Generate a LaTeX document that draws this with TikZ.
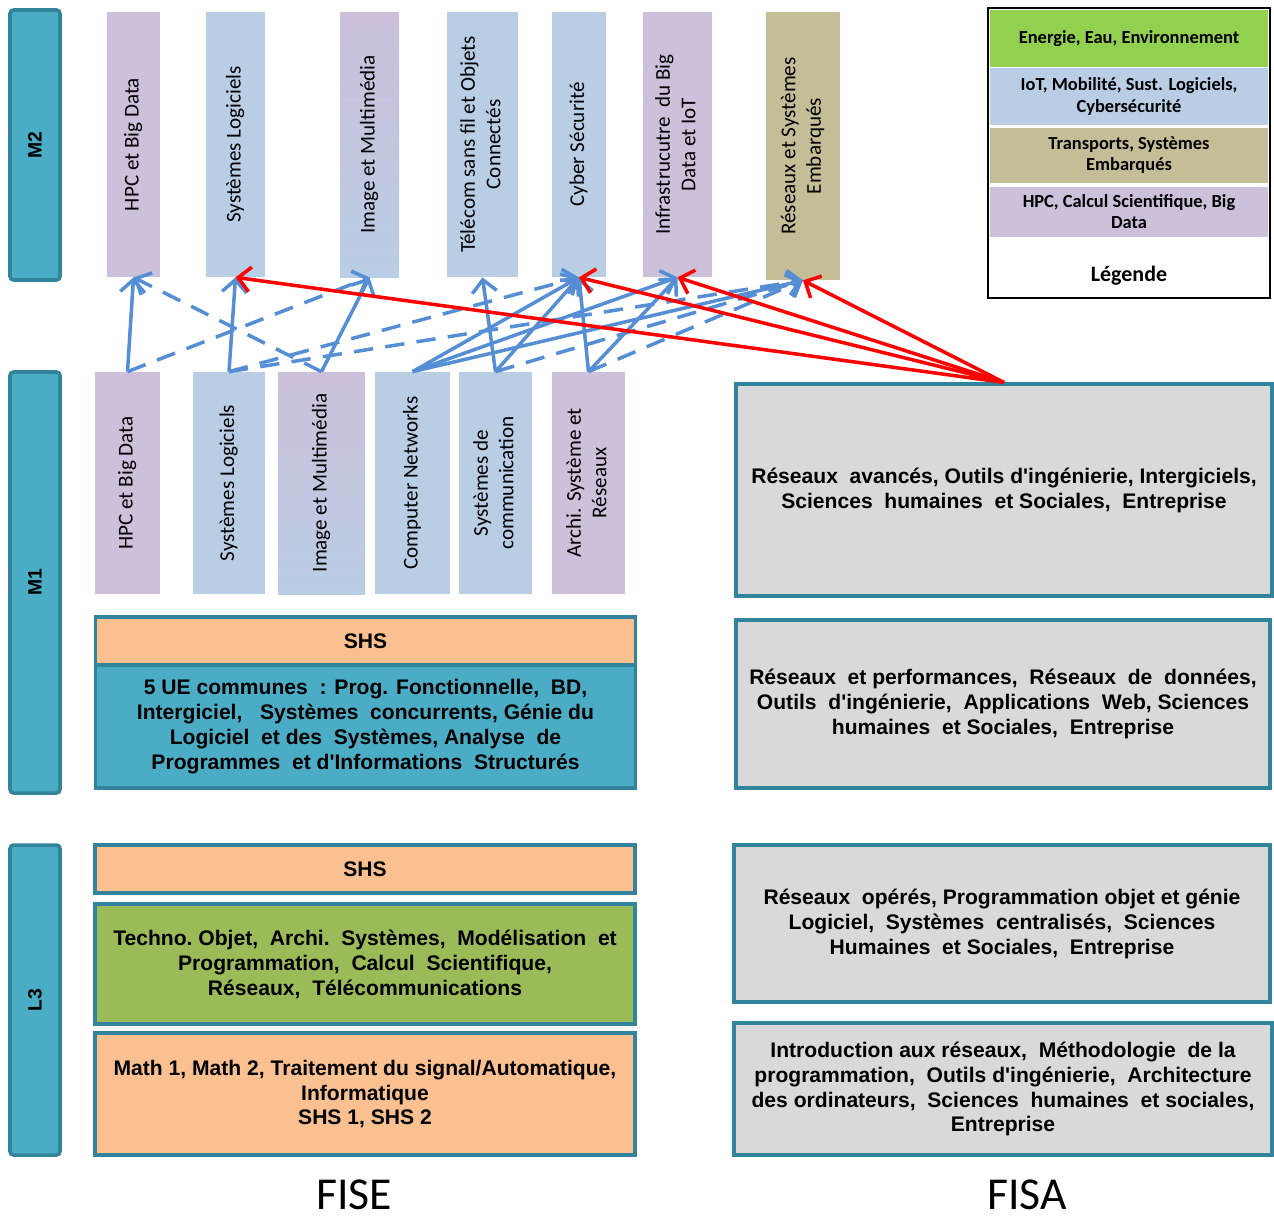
\documentclass[tikz,border=0pt]{standalone}
\usepackage{fontspec}
\setmainfont{Carlito}
\newfontfamily\arialfont{Liberation Sans}
\usepackage{xcolor}
\usepackage{tikz}
\usetikzlibrary{arrows.meta}

\definecolor{tealfill}{HTML}{4BACC6}
\definecolor{tealline}{HTML}{31849B}
\definecolor{hpcpurple}{HTML}{CCC0DA}
\definecolor{iotblue}{HTML}{B9CDE5}
\definecolor{transptan}{HTML}{C4BD97}
\definecolor{energygreen}{HTML}{92D050}
\definecolor{shsorange}{HTML}{FAC090}
\definecolor{scigreen}{HTML}{9BBB59}
\definecolor{fisagray}{HTML}{D9D9D9}
\definecolor{linkblue}{HTML}{558ED5}

\newcommand{\vtext}[1]{\rotatebox{90}{\begin{tabular}{@{}c@{}}#1\end{tabular}}}

\tikzset{
    % year bars
    year/.style={draw=tealline, line width=2pt, fill=tealfill, rounded corners=2pt, minimum width=1cm, inner sep=0pt, font=\arialfont\bfseries\fontsize{11}{13}\selectfont},
    % specialisation tracks
    track/.style={inner sep=0pt, font=\fontsize{12}{14.5}\selectfont},
    hpc/.style={track, fill=hpcpurple},
    iot/.style={track, fill=iotblue},
    transp/.style={track, fill=transptan},
    mixed/.style={track, top color=hpcpurple, bottom color=iotblue},
    % course boxes
    course/.style={draw=tealline, line width=1.8pt, inner sep=0pt, align=center, font=\arialfont\bfseries\fontsize{12}{14.2}\selectfont},
    fisebox/.style={course, minimum width=10.8cm},
    fisabox/.style={course, fill=fisagray},
    % legend
    legendrow/.style={inner sep=0pt, minimum width=5.56cm, align=center, font=\bfseries\fontsize{10.5}{12}\selectfont},
    % connectors
    link/.style={->, line width=2pt, linkblue},
    dashlink/.style={link, dash pattern=on 11pt off 7pt},
    fisalink/.style={->, line width=2pt, red}
}

\begin{document}
\begin{tikzpicture}[>={Straight Barb[length=7pt,width=14pt]}]
\useasboundingbox (0,0) rectangle (25.48,-24.5);

% Years
\node[year, minimum height=5.4cm] (m2) at (0.7,-2.9) {\rotatebox{90}{M2}};
\node[year, minimum height=8.42cm] (m1) at (0.7,-11.65) {\rotatebox{90}{M1}};
\node[year, minimum height=6.2cm] (l3) at (0.7,-20.0) {\rotatebox{90}{L3}};

% M2 tracks
\node[hpc, minimum width=1.06cm, minimum height=5.3cm] (m2hpc) at (2.67,-2.89) {\vtext{HPC et Big Data}};
\node[iot, minimum width=1.18cm, minimum height=5.3cm] (m2log) at (4.71,-2.89) {\vtext{Systèmes Logiciels}};
\node[mixed, minimum width=1.18cm, minimum height=5.3cm] (m2img) at (7.39,-2.89) {\vtext{Image et Multimédia}};
\node[iot, minimum width=1.42cm, minimum height=5.3cm] (m2tel) at (9.65,-2.89) {\vtext{Télécom sans fil et Objets\\Connectés}};
\node[iot, minimum width=1.08cm, minimum height=5.3cm] (m2cyb) at (11.58,-2.89) {\vtext{Cyber Sécurité}};
\node[hpc, minimum width=1.38cm, minimum height=5.3cm] (m2infra) at (13.55,-2.89) {\vtext{Infrastrucutre\ \ du Big\\Data et IoT}};
\node[transp, minimum width=1.48cm, minimum height=5.36cm] (m2rse) at (16.06,-2.92) {\vtext{Réseaux et Systèmes\\Embarqués}};

% M1 tracks
\node[hpc, minimum width=1.3cm, minimum height=4.44cm] (m1hpc) at (2.55,-9.66) {\vtext{HPC et Big Data}};
\node[iot, minimum width=1.44cm, minimum height=4.44cm] (m1log) at (4.58,-9.66) {\vtext{Systèmes Logiciels}};
\node[mixed, minimum width=1.74cm, minimum height=4.44cm] (m1img) at (6.43,-9.66) {\vtext{Image et Multimédia}};
\node[iot, minimum width=1.5cm, minimum height=4.44cm] (m1net) at (8.25,-9.66) {\vtext{Computer Networks}};
\node[iot, minimum width=1.46cm, minimum height=4.44cm] (m1com) at (9.91,-9.66) {\vtext{Systèmes de\\communication}};
\node[hpc, minimum width=1.46cm, minimum height=4.44cm] (m1arch) at (11.77,-9.66) {\vtext{Archi. Système et\\Réseaux}};

% FISE M1
\node[fisebox, fill=shsorange, minimum height=0.96cm] (fiseshs) at (7.31,-12.82) {SHS};
\node[fisebox, fill=tealfill, minimum height=2.46cm] (fiseue) at (7.31,-14.53) {5 UE communes\ \ : Prog. Fonctionnelle,\ \ BD,\\Intergiciel,\ \ \ Systèmes\ \ concurrents, Génie du\\Logiciel\ \ et des\ \ Systèmes, Analyse\ \ de\\Programmes\ \ et d'Informations\ \ Structurés};

% FISA M1
\node[fisabox, minimum width=10.72cm, minimum height=4.24cm] (fisaadv) at (20.08,-9.8) {Réseaux\ \ avancés, Outils d'ingénierie, Intergiciels,\\Sciences\ \ humaines\ \ et Sociales,\ \ Entreprise};
\node[fisabox, minimum width=10.68cm, minimum height=3.36cm] (fisaperf) at (20.06,-14.08) {Réseaux\ \ et performances,\ \ Réseaux\ \ de\ \ données,\\Outils\ \ d'ingénierie,\ \ Applications\ \ Web, Sciences\\humaines\ \ et Sociales,\ \ Entreprise};

% FISE L3
\node[fisebox, fill=shsorange, minimum height=0.96cm] (lshs) at (7.3,-17.38) {SHS};
\node[fisebox, fill=scigreen, minimum height=2.4cm] (lsci) at (7.3,-19.28) {Techno.\ Objet,\ \ Archi.\ \ Systèmes,\ \ Modélisation\ \ et\\Programmation,\ \ Calcul\ \ Scientifique,\\Réseaux,\ \ Télécommunications};
\node[fisebox, fill=shsorange, minimum height=2.44cm] (lmath) at (7.3,-21.88) {Math 1, Math 2, Traitement du signal/Automatique,\\Informatique\\SHS 1, SHS 2};

% FISA L3
\node[fisabox, minimum width=10.72cm, minimum height=3.14cm] (fisaop) at (20.04,-18.47) {Réseaux\ \ opérés, Programmation objet et génie\\Logiciel,\ \ Systèmes\ \ centralisés,\ \ Sciences\\Humaines\ \ et Sociales,\ \ Entreprise};
\node[fisabox, minimum width=10.76cm, minimum height=2.64cm] (fisaintro) at (20.06,-21.78) {Introduction aux réseaux,\ \ Méthodologie\ \ de la\\programmation,\ \ Outils d'ingénierie,\ \ Architecture\\des ordinateurs,\ \ Sciences\ \ humaines\ \ et sociales,\\Entreprise};

% Legend
\node[draw, line width=1.5pt, minimum width=5.64cm, minimum height=5.8cm] (legend) at (22.58,-3.06) {};
\node[legendrow, fill=energygreen, minimum height=1.14cm] (legenergy) at (22.58,-0.77) {Energie, Eau, Environnement};
\node[legendrow, fill=iotblue, minimum height=1.14cm] (legiot) at (22.58,-1.93) {IoT, Mobilité, Sust. Logiciels,\\Cybersécurité};
\node[legendrow, fill=transptan, minimum height=1.1cm] (legtransp) at (22.58,-3.11) {Transports, Systèmes\\Embarqués};
\node[legendrow, fill=hpcpurple, minimum height=1.0cm] (leghpc) at (22.58,-4.24) {HPC, Calcul Scientifique, Big\\Data};
\node[font=\bfseries\fontsize{12.5}{14}\selectfont] (legtitle) at (22.58,-5.52) {Légende};

% Cursus labels
\node[inner sep=0pt, font=\fontsize{26}{30}\selectfont] (fise) at (7.08,-23.9) {FISE};
\node[inner sep=0pt, font=\fontsize{26}{30}\selectfont] (fisa) at (20.54,-23.9) {FISA};

% M1 -> M2 (FISE)
\foreach \src/\dst in {m1hpc/m2hpc, m1log/m2log, m1img/m2img, m1net/m2cyb, m1net/m2infra, m1net/m2rse, m1com/m2tel, m1com/m2cyb, m1arch/m2cyb, m1arch/m2infra}
    \draw[link] (\src.north) -- (\dst.south);
\foreach \src/\dst in {m1hpc/m2img, m1img/m2hpc, m1log/m2cyb, m1log/m2rse, m1com/m2rse, m1arch/m2rse}
    \draw[dashlink] (\src.north) -- (\dst.south);

% M1 -> M2 (FISA)
\foreach \dst in {m2log, m2cyb, m2infra, m2rse}
    \draw[fisalink] (fisaadv.north) -- (\dst.south);
\end{tikzpicture}
\end{document}
